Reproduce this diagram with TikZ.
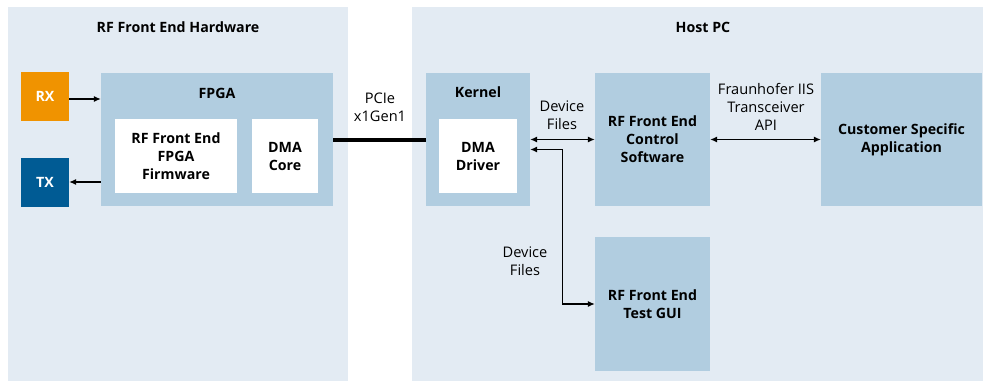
\documentclass[tikz,border=0pt]{standalone}
\usepackage{fontspec}
\setmainfont{Open Sans}
\usetikzlibrary{arrows.meta, positioning}

\definecolor{panelbg}{HTML}{E3EBF3}
\definecolor{boxblue}{HTML}{B1CDE0}
\definecolor{rxorange}{HTML}{F09300}
\definecolor{txblue}{HTML}{005B94}

\begin{document}
\begin{tikzpicture}[
		x=1pt, y=-1pt,
		font=\fontsize{14.6}{18}\selectfont,
		panel/.style={rectangle, fill=panelbg, inner sep=0pt, anchor=north west},
		box/.style={rectangle, fill=boxblue, inner sep=0pt, align=center, font=\fontsize{14.2}{18}\selectfont\bfseries},
		inbox/.style={rectangle, fill=white, inner sep=0pt, align=center, font=\fontsize{14.2}{18}\selectfont\bfseries},
		port/.style={rectangle, inner sep=0pt, minimum width=48pt, minimum height=49pt, text=white, font=\fontsize{14.2}{18}\selectfont\bfseries},
		title/.style={font=\fontsize{14.2}{18}\selectfont\bfseries},
		link/.style={-{Latex[length=7pt, width=6pt]}, line width=1.1pt},
		biglink/.style={{Latex[length=7pt, width=6pt]}-{Latex[length=7pt, width=6pt]}, line width=1.1pt},
		note/.style={align=center, inner sep=0pt}
		]
		\useasboundingbox (0,0) rectangle (983,381);

		% Panels
		\node[panel, minimum width=340pt, minimum height=374pt] (hw) at (8,7) {};
		\node[panel, minimum width=571pt, minimum height=374pt] (host) at (412,7) {};
		\node[title] (hwtitle) at (178,27) {RF Front End Hardware};
		\node[title] (hosttitle) at (703,27) {Host PC};

		% Hardware side
		\node[port, fill=rxorange] (rx) at (45,96.5) {RX};
		\node[port, fill=txblue] (tx) at (45,182) {TX};
		\node[box, minimum width=232pt, minimum height=133pt] (fpga) at (217,139.5) {};
		\node[title] (fpgalabel) at (217,93) {FPGA};
		\node[inbox, minimum width=122pt, minimum height=74pt] (firmware) at (176,156) {RF Front End\\FPGA\\Firmware};
		\node[inbox, minimum width=66pt, minimum height=74pt] (dmacore) at (285,156) {DMA\\Core};

		% Host side
		\node[box, minimum width=104pt, minimum height=133pt] (kernel) at (478,139.5) {};
		\node[title] (kernellabel) at (478,92) {Kernel};
		\node[inbox, minimum width=78pt, minimum height=74pt] (driver) at (478,156) {DMA\\Driver};
		\node[box, minimum width=115pt, minimum height=133pt] (control) at (652.5,139.5) {RF Front End\\Control\\Software};
		\node[box, minimum width=161pt, minimum height=133pt] (customer) at (901.5,139.5) {Customer Specific\\Application};
		\node[box, minimum width=115pt, minimum height=134pt] (gui) at (652.5,304) {RF Front End\\Test GUI};

		% Connect them
		\draw[link] ([yshift=-2.5pt]rx.east) -- ([yshift=-2.5pt]rx.east -| fpga.west);
		\draw[link] (fpga.west |- tx.east) -- (tx.east);
		\draw[line width=4pt] (fpga.east) -- (kernel.west);
		\draw[biglink] (kernel.east) -- (control.west);
		\draw[biglink] ([yshift=-10pt]kernel.east) -- ++(32,0) |- (gui.west);
		\draw[biglink] (control.east) -- (customer.west);

		% Connector labels
		\node[note] (pcie) at (380,107) {PCIe\\x1Gen1};
		\node[note] (devfiles) at (562,115) {Device\\Files};
		\node[note] (devfiles2) at (525,261) {Device\\Files};
		\node[note] (api) at (766,107) {Fraunhofer IIS\\Transceiver\\API};
	\end{tikzpicture}
\end{document}
